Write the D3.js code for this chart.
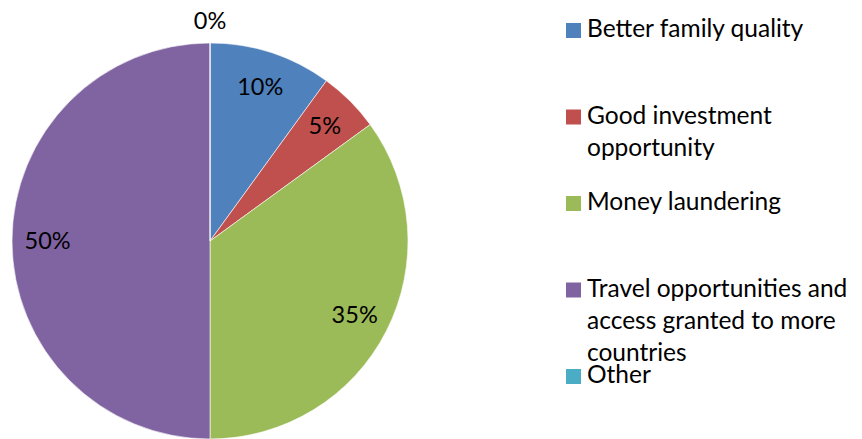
<!DOCTYPE html>
<html>
<head>
<meta charset="utf-8">
<script src="https://cdn.jsdelivr.net/npm/d3@7"></script>
<style>
  body { margin: 0; background: #fff; }
  text { font-family: Lato, "Open Sans", sans-serif; fill: #000; }
</style>
</head>
<body>
<div id="chart"></div>
<script>
var categories = ["Better family quality", "Good investment opportunity", "Money laundering",
  "Travel opportunities and access granted to more countries", "Other"]
var values = [10, 5, 35, 50, 0]
// legend text as Excel wrapped it
var legendLines = [
  ["Better family quality"],
  ["Good investment", "opportunity"],
  ["Money laundering"],
  ["Travel opportunities and", "access granted to more", "countries"],
  ["Other"]
]
var colors = ["#4F81BD", "#C0504D", "#9BBB59", "#8064A2", "#4BACC6"]

var width = 862, height = 439
var cx = 210, cy = 241, radius = 198

var svg = d3.select("#chart").append("svg")
  .attr("width", width).attr("height", height)

var pie = d3.pie().sort(null).value(function (d) { return d })
var arcs = pie(values)
var arc = d3.arc().innerRadius(0).outerRadius(radius)
var labelArc = d3.arc().innerRadius(radius * 0.82).outerRadius(radius * 0.82)
var outerArc = d3.arc().innerRadius(radius + 22).outerRadius(radius + 22)

var g = svg.append("g").attr("transform", "translate(" + cx + "," + cy + ")")

g.selectAll("path")
  .data(arcs)
  .enter().append("path")
    .attr("d", arc)
    .attr("fill", function (d, i) { return colors[i] })
    .attr("stroke", "#fff")
    .attr("stroke-opacity", 0.6)
    .attr("stroke-width", 1)

g.selectAll("text.pct")
  .data(arcs)
  .enter().append("text")
    .attr("class", "pct")
    .attr("transform", function (d) {
      var p = d.value === 0 ? outerArc.centroid(d) : labelArc.centroid(d)
      return "translate(" + p + ")"
    })
    .attr("text-anchor", "middle")
    .attr("dy", "0.35em")
    .attr("font-size", 23.5)
    .text(function (d) { return d.value + "%" })

// legend
var legendY = d3.scaleLinear().domain([0, 4]).range([37, 383])
var legend = svg.append("g").selectAll("g")
  .data(categories)
  .enter().append("g")
    .attr("transform", function (d, i) { return "translate(566," + legendY(i) + ")" })

legend.append("rect")
  .attr("x", 0).attr("y", -14)
  .attr("width", 15).attr("height", 15)
  .attr("fill", function (d, i) { return colors[i] })

legend.append("text")
  .attr("x", 21)
  .attr("font-size", 24.5)
  .selectAll("tspan")
  .data(function (d, i) { return legendLines[i] })
  .enter().append("tspan")
    .attr("x", 21)
    .attr("dy", function (d, j) { return j === 0 ? 0 : 32 })
    .text(function (d) { return d })
</script>
</body>
</html>
